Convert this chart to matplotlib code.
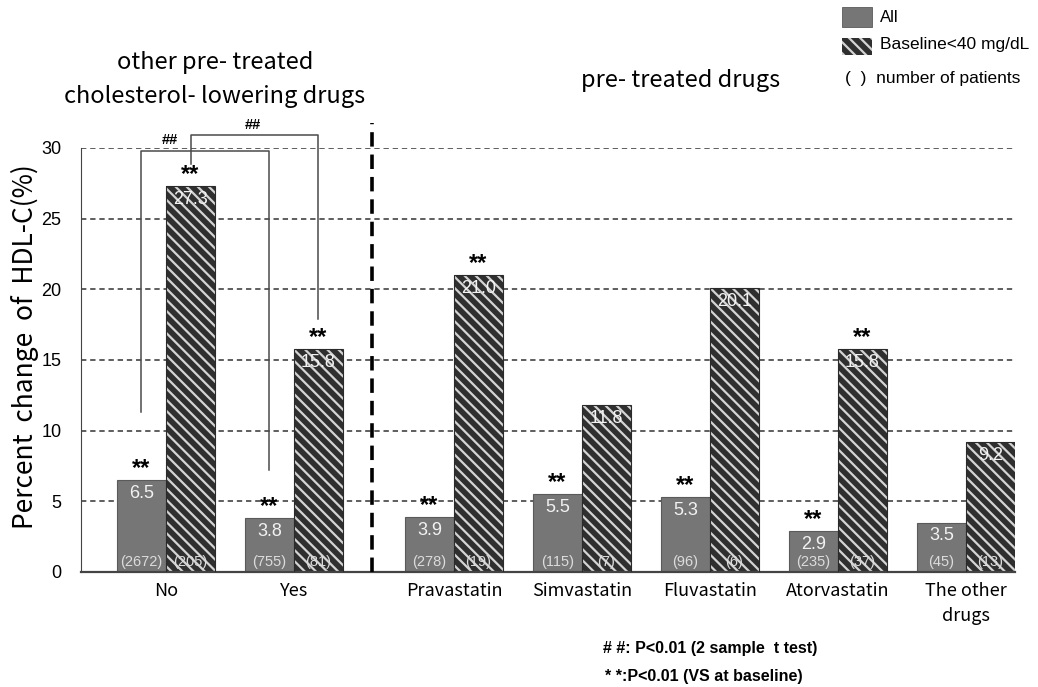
import matplotlib

matplotlib.use("Agg")
import matplotlib.pyplot as plt
from matplotlib.patches import Rectangle

plt.rcParams["font.family"] = ["Noto Sans CJK JP", "DejaVu Sans"]
plt.rcParams["hatch.linewidth"] = 1.6

# percent change of HDL-C, by pre-treatment group
categories = ["No", "Yes", "Pravastatin", "Simvastatin", "Fluvastatin",
              "Atorvastatin", "The other\ndrugs"]
all_pct = [6.5, 3.8, 3.9, 5.5, 5.3, 2.9, 3.5]
low_pct = [27.3, 15.8, 21.0, 11.8, 20.1, 15.8, 9.2]
all_n = [2672, 755, 278, 115, 96, 235, 45]
low_n = [205, 81, 19, 7, 6, 37, 13]
all_sig = [True, True, True, True, True, True, False]
low_sig = [True, True, True, False, False, True, False]

NUM = ["Liberation Sans", "DejaVu Sans"]
GREY = "#767676"
DARK = "#2f2f2f"
STRIPE = "#d4d4d4"

# group centres: two "other drugs" groups, a gap for the divider, then the statins
xpos = [0, 1, 2.25, 3.25, 4.25, 5.25, 6.25]
w = 0.383

fig = plt.figure(figsize=(10.38, 6.87), dpi=100)
ax = fig.add_axes([81 / 1038, 115 / 687, 934 / 1038, 424 / 687])
ax.set_xlim(-0.664, 6.633)
ax.set_ylim(0, 30)

ax.set_yticks(range(0, 31, 5))
ax.yaxis.grid(True, color="#333333", lw=1.1, ls=(0, (3.5, 2.5)))
ax.set_axisbelow(True)
for s in ("top", "right"):
    ax.spines[s].set_visible(False)
ax.spines["left"].set_color("#444444")
ax.spines["bottom"].set_color("#444444")
ax.spines["bottom"].set_linewidth(1.6)
ax.tick_params(axis="y", length=0, pad=14, labelsize=13)
ax.tick_params(axis="x", length=0, pad=7, labelsize=13)
for lab in ax.get_yticklabels():
    lab.set_fontfamily(NUM)
ax.set_xticks(xpos)
ax.set_xticklabels(categories, linespacing=1.55)

left_x = [x - w / 2 for x in xpos]
right_x = [x + w / 2 for x in xpos]
ax.bar(left_x, all_pct, w, color=GREY, edgecolor="#5a5a5a", lw=0.8, zorder=2)
ax.bar(right_x, low_pct, w, color=DARK, edgecolor=STRIPE, hatch="\\\\\\",
       lw=0, zorder=2)
ax.bar(right_x, low_pct, w, fill=False, edgecolor="#2a2a2a", lw=0.8, zorder=3)

for xs, vals, ns, sig in ((left_x, all_pct, all_n, all_sig),
                          (right_x, low_pct, low_n, low_sig)):
    for x, v, n, s in zip(xs, vals, ns, sig):
        ax.annotate(f"{v:.1f}", (x, v), xytext=(0, -3.5), textcoords="offset points",
                    ha="center", va="top", color="#f2f2f2", fontsize=13,
                    family=NUM, zorder=4)
        ax.annotate(f"({n})", (x, 0), xytext=(0, 2), textcoords="offset points",
                    ha="center", va="bottom", color="#dcdcdc", fontsize=10.5,
                    family=NUM, zorder=4)
        if s:
            ax.annotate("**", (x, v), xytext=(0, 3.5), textcoords="offset points",
                        ha="center", va="baseline", fontsize=17,
                        fontweight="bold", family=NUM, zorder=4)

# ## brackets between "No" and "Yes"
brackets = [
    (left_x[0], left_x[1], 11.3, 7.2, 29.8, 0.03, 30.6),
    (right_x[0], right_x[1], 28.9, 17.9, 30.9, 0.68, 31.6),
]
for x0, x1, y0, y1, top, tx, ty in brackets:
    ax.plot([x0, x0, x1, x1], [y0, top, top, y1], color="#4a4a4a", lw=1.1,
            clip_on=False, zorder=5)
    ax.text(tx, ty, "##", ha="center", va="center", fontsize=10.5,
            fontweight="bold", family=NUM)

# divider between the two panels
ax.plot([1.61, 1.61], [0, 31.8], color="black", lw=2.6, ls=(0, (4, 2.2)),
        clip_on=False, zorder=5)

fig.text(25 / 1038, 1 - 347 / 687, "Percent  change  of  HDL-C(%)", rotation=90,
         ha="center", va="center", fontsize=19)
fig.text(215 / 1038, 1 - 63 / 687, "other pre- treated", ha="center",
         va="center", fontsize=17)
fig.text(215 / 1038, 1 - 97 / 687, "cholesterol- lowering drugs", ha="center",
         va="center", fontsize=17)
fig.text(681 / 1038, 1 - 80 / 687, "pre- treated drugs", ha="center",
         va="center", fontsize=17)

# legend drawn by hand in the top-right corner
fig.add_artist(Rectangle((842 / 1038, 1 - 27 / 687), 30 / 1038, 20 / 687,
                         transform=fig.transFigure, facecolor=GREY,
                         edgecolor="#5a5a5a", lw=0.6))
fig.add_artist(Rectangle((842 / 1038, 1 - 55 / 687), 30 / 1038, 17 / 687,
                         transform=fig.transFigure, facecolor=DARK,
                         edgecolor=STRIPE, hatch="\\\\\\", lw=0))
fig.text(880 / 1038, 1 - 18 / 687, "All", va="center", fontsize=12, family=NUM)
fig.text(880 / 1038, 1 - 45 / 687, "Baseline<40 mg/dL", va="center",
         fontsize=12.5, family=NUM)
fig.text(845 / 1038, 1 - 78 / 687, "(  )  number of patients", va="center",
         fontsize=12.5, family=NUM)

fig.text(603 / 1038, 1 - 648 / 687, "# #: P<0.01 (2 sample  t test)",
         va="center", fontsize=11.5, fontweight="bold", family=NUM)
fig.text(605 / 1038, 1 - 677 / 687, "* *:P<0.01 (VS at baseline)",
         va="center", fontsize=11.5, fontweight="bold", family=NUM)

fig.savefig("out.png", dpi=100)
